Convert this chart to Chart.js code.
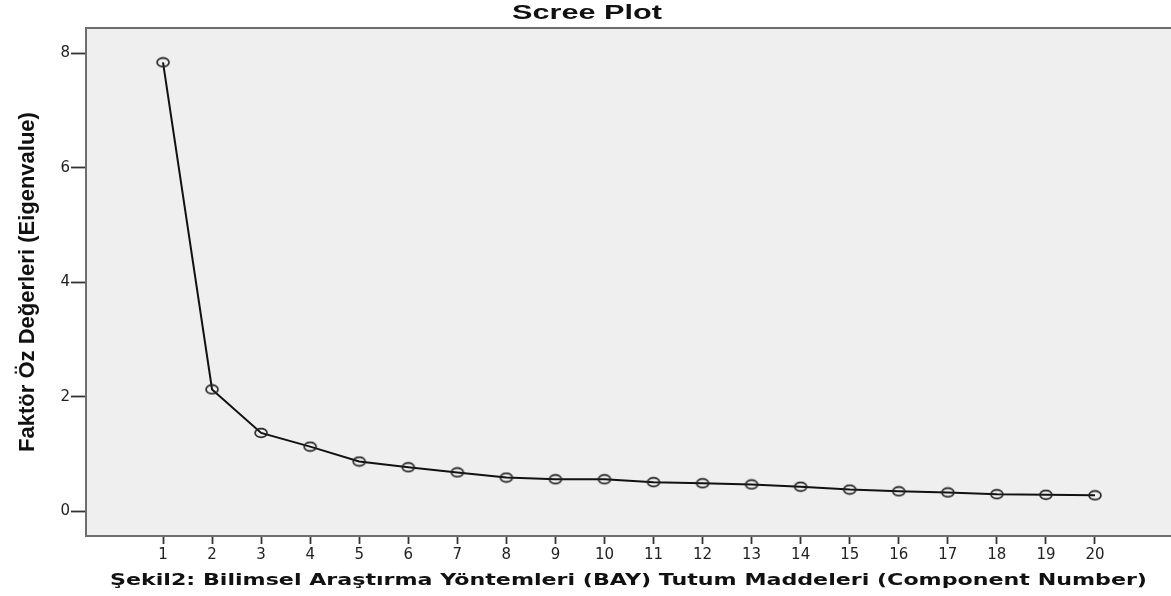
<!DOCTYPE html>
<html>
<head>
<meta charset="utf-8">
<script src="https://cdn.jsdelivr.net/npm/chart.js@4.4.0/dist/chart.umd.min.js"></script>
<style>
  html, body { margin: 0; padding: 0; background: #fff; }
  #wrap { width: 1171px; height: 596px; }
</style>
</head>
<body>
<div id="wrap"><canvas id="chart" width="1171" height="596"></canvas></div>
<script>
// component numbers and eigenvalues
const components = [1, 2, 3, 4, 5, 6, 7, 8, 9, 10, 11, 12, 13, 14, 15, 16, 17, 18, 19, 20];
const eigenvalues = [7.84, 2.13, 1.37, 1.13, 0.87, 0.77, 0.68, 0.59, 0.56, 0.56,
                     0.51, 0.49, 0.47, 0.43, 0.38, 0.35, 0.33, 0.30, 0.29, 0.28];
const yTicks = [0, 2, 4, 6, 8];
const xTicks = components;

const chartTitle = "Scree Plot";
const xTitle = "Şekil2: Bilimsel Araştırma Yöntemleri (BAY) Tutum Maddeleri (Component Number)";
const yTitle = "Faktör Öz Değerleri (Eigenvalue)";

// open elliptical marker like the SPSS output
const marker = document.createElement("canvas");
marker.width = 16;
marker.height = 12;
const mctx = marker.getContext("2d");
mctx.strokeStyle = "#222";
mctx.lineWidth = 1.6;
mctx.beginPath();
mctx.ellipse(8, 6, 6, 4.4, 0, 0, Math.PI * 2);
mctx.stroke();

const pts = components.map((c, i) => ({ x: c, y: eigenvalues[i] }));

// grey plot background + frame, and the stretched titles
const framePlugin = {
  id: "frame",
  beforeDraw(chart) {
    const a = chart.chartArea;
    const ctx = chart.ctx;
    ctx.save();
    ctx.fillStyle = "#efefef";
    ctx.fillRect(a.left, a.top, a.right - a.left, a.bottom - a.top);
    ctx.restore();
  },
  afterDraw(chart) {
    const a = chart.chartArea;
    const ctx = chart.ctx;
    ctx.save();
    ctx.strokeStyle = "#6e6e6e";
    ctx.lineWidth = 2;
    ctx.beginPath();
    ctx.moveTo(chart.width + 2, a.top);
    ctx.lineTo(a.left, a.top);
    ctx.lineTo(a.left, a.bottom);
    ctx.lineTo(chart.width + 2, a.bottom);
    ctx.stroke();

    ctx.fillStyle = "#111";
    ctx.textAlign = "center";
    ctx.textBaseline = "alphabetic";

    // main title
    ctx.font = "bold 21px 'Liberation Sans', Arial, sans-serif";
    let w = ctx.measureText(chartTitle).width;
    let sx = 150 / w;
    ctx.save();
    ctx.translate(587, 19);
    ctx.scale(sx, 1);
    ctx.fillText(chartTitle, 0, 0);
    ctx.restore();

    // x axis title
    ctx.font = "bold 15px 'DejaVu Sans', Verdana, sans-serif";
    w = ctx.measureText(xTitle).width;
    sx = 1037 / w;
    ctx.save();
    ctx.translate((a.left + a.right) / 2, 585);
    ctx.scale(sx, 1);
    ctx.fillText(xTitle, 0, 0);
    ctx.restore();
    ctx.restore();
  }
};

new Chart(document.getElementById("chart"), {
  type: "line",
  data: {
    datasets: [{
      data: pts,
      borderColor: "#111",
      borderWidth: 2,
      pointStyle: marker,
      pointRadius: 6,
      pointHoverRadius: 6,
      backgroundColor: "rgba(0,0,0,0)",
      tension: 0
    }]
  },
  options: {
    responsive: false,
    animation: false,
    events: [],
    layout: { autoPadding: false, padding: { top: 28, right: 0, bottom: 0, left: 0 } },
    plugins: {
      legend: { display: false },
      tooltip: { enabled: false },
      title: { display: false }
    },
    scales: {
      x: {
        type: "linear",
        min: -0.57,
        max: 21.55,
        afterBuildTicks(scale) { scale.ticks = xTicks.map(v => ({ value: v })); },
        afterFit(scale) {
          scale.height = 60;
          scale.paddingLeft = 0;
          scale.paddingRight = 0;
        },
        grid: { drawOnChartArea: false, drawTicks: true, tickLength: 8, tickWidth: 1.8, tickColor: "#333" },
        border: { display: false },
        ticks: {
          padding: 2,
          color: "#222",
          maxRotation: 0,
          autoSkip: false,
          font: { family: "'DejaVu Sans', sans-serif", size: 15 }
        },
        title: { display: false }
      },
      y: {
        type: "linear",
        min: -0.43,
        max: 8.44,
        afterBuildTicks(scale) { scale.ticks = yTicks.map(v => ({ value: v })); },
        afterFit(scale) {
          scale.width = 86;
          scale.paddingTop = 0;
          scale.paddingBottom = 0;
        },
        grid: { drawOnChartArea: false, drawTicks: true, tickLength: 15, tickWidth: 1.8, tickColor: "#333" },
        border: { display: false },
        ticks: {
          padding: 1,
          color: "#222",
          font: { family: "'DejaVu Sans', sans-serif", size: 15 }
        },
        title: {
          display: true,
          text: yTitle,
          color: "#111",
          padding: { top: 15, bottom: 0 },
          font: { family: "'Liberation Sans Narrow', 'Liberation Sans', Arial, sans-serif", size: 22, weight: "bold" }
        }
      }
    }
  },
  plugins: [framePlugin]
});
</script>
</body>
</html>
